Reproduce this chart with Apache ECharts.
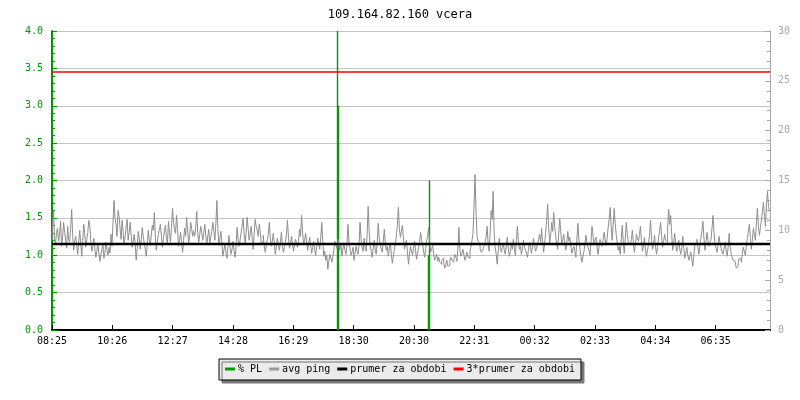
<!DOCTYPE html>
<html>
<head>
<meta charset="utf-8">
<script src="https://cdn.jsdelivr.net/npm/echarts@6/dist/echarts.min.js"></script>
<style>html,body{margin:0;padding:0;background:#fff;}#c{width:800px;height:400px;}</style>
</head>
<body>
<div id="c"></div>
<script>
// ---- data ----
const titleText = '109.164.82.160 vcera';
const tickLabels = ['08:25','10:26','12:27','14:28','16:29','18:30','20:30','22:31','00:32','02:33','04:34','06:35'];
const tickStepMin = 121;       // minutes between labelled ticks
const rangeMin = 1440;         // whole period, minutes from 08:25
const leftTicks = [0, 4, 0.5];   // min, max, interval (% PL)
const rightTicks = [0, 30, 5];   // min, max, interval (ms)

// avg ping (ms), sampled evenly over the period (about one sample per 2 minutes)
const avgPing = [
 9.0,10.4,12.0,9.2,8.6,9.8,10.2,8.9,
 9.6,10.9,8.4,9.3,10.8,9.8,9.0,8.2,10.4,9.1,
 8.8,10.2,12.1,9.5,8.0,8.9,9.4,8.5,7.6,8.8,
 10.0,8.6,7.4,9.0,10.6,9.6,8.3,9.1,9.8,11.0,
 10.5,8.9,7.9,8.4,9.2,8.1,7.3,7.9,8.6,7.7,
 6.9,7.6,8.1,8.6,7.2,7.8,8.8,8.0,7.5,8.3,
 7.7,9.6,8.4,10.8,13.0,11.2,10.6,9.4,12.0,11.4,
 10.2,9.1,11.0,9.9,8.6,9.4,10.4,11.1,9.0,9.8,
 10.8,9.5,8.3,8.9,9.6,8.6,7.0,8.2,9.9,9.2,
 8.1,9.1,10.3,9.4,8.7,8.1,7.4,8.6,10.0,9.0,
 8.5,9.6,10.5,10.0,11.8,9.3,8.0,8.9,9.6,10.1,
 10.6,9.4,8.3,9.2,10.0,10.5,9.2,8.7,10.9,9.8,
 8.8,10.3,12.2,10.9,10.0,9.7,11.5,10.1,8.4,9.0,
 9.8,8.9,7.8,9.0,10.2,9.4,11.3,10.0,8.7,9.5,10.8,10.2,9.4,9.9,
 9.4,10.3,11.9,9.7,8.8,9.6,10.4,9.8,9.0,9.7,
 10.6,9.5,8.6,9.4,10.1,8.7,9.3,10.0,10.8,9.9,
 9.0,10.7,13.0,10.1,8.5,9.2,9.9,8.6,7.4,8.0,
 8.7,7.8,7.2,8.4,9.5,8.3,7.6,8.1,8.9,8.0,
 7.3,8.2,10.3,9.1,8.4,9.0,9.8,10.4,11.2,9.7,
 8.6,9.8,11.3,10.2,9.0,9.6,10.4,9.3,8.1,9.7,
 11.1,10.4,10.0,9.4,10.6,9.9,8.7,8.8,9.5,8.4,
 7.8,8.5,9.1,9.6,10.8,9.2,8.4,9.0,9.7,8.6,
 7.6,8.4,9.2,8.5,8.0,8.8,9.8,8.4,7.8,8.3,
 8.8,9.6,11.0,9.3,8.2,8.7,9.4,8.6,7.9,8.5,
 9.1,8.7,8.3,9.0,10.1,9.4,11.5,9.8,8.6,9.0,
 9.7,8.8,8.0,8.6,9.3,8.5,7.7,8.3,8.9,8.0,
 7.5,8.4,9.2,8.6,8.1,9.3,10.8,8.9,7.4,7.9,
 7.0,7.5,6.1,6.9,7.6,7.2,6.8,7.4,8.0,8.9,8.6,8.2,9.1,8.5,
 8.0,8.6,7.4,8.1,8.7,8.0,7.6,8.5,10.6,8.9,
 8.2,7.5,7.8,8.3,7.0,7.7,8.4,7.9,7.6,8.6,
 10.8,9.1,8.3,7.9,9.2,8.4,7.9,9.6,12.4,9.9,
 8.5,7.9,7.3,8.2,9.0,8.0,7.6,8.8,10.7,9.2,
 8.6,8.1,7.8,8.9,10.1,8.7,8.0,8.4,7.4,8.2,
 8.7,7.6,6.7,7.4,8.1,8.7,9.4,10.6,12.3,10.1,
 9.3,9.9,10.5,9.2,8.1,8.6,9.0,7.8,6.6,7.6,
 8.4,7.9,7.5,8.2,8.9,8.0,7.1,7.7,8.3,8.8,
 9.8,9.0,8.6,7.9,7.3,8.1,8.9,9.5,10.3,8.7,
 7.8,8.2,8.5,7.6,7.0,7.3,7.6,6.9,7.3,6.8,
 6.6,7.0,7.2,6.7,6.2,6.6,7.0,6.4,6.5,6.9,
 7.3,7.0,6.8,7.2,7.6,7.3,6.9,8.2,10.3,8.0,
 7.4,7.7,8.1,7.5,7.0,7.4,7.8,7.3,7.2,7.9,
 8.4,9.0,9.7,12.5,15.6,11.8,9.4,8.9,8.7,8.2,7.8,8.0,8.3,8.5,
 8.9,9.3,10.4,8.6,7.9,9.8,12.0,11.1,13.9,9.6,
 8.3,7.6,6.6,7.9,9.2,8.4,7.8,8.3,8.7,8.0,
 7.6,8.4,9.3,8.2,7.4,7.9,8.6,8.1,9.1,8.2,
 7.5,9.0,10.4,8.9,8.1,8.4,7.6,8.2,9.0,8.3,
 8.0,7.7,7.3,8.1,8.8,8.3,7.7,8.4,9.2,8.5,
 7.9,8.2,8.6,9.1,9.6,8.8,10.2,8.9,7.8,8.6,
 9.8,11.0,12.6,10.2,8.7,9.5,10.8,9.9,11.8,10.4,
 9.4,8.6,8.1,9.7,11.2,9.9,8.6,9.1,9.6,8.7,
 8.0,8.8,9.9,8.9,9.3,8.5,7.7,8.1,8.4,7.9,
 7.3,9.2,10.7,9.0,8.2,7.4,6.8,7.4,7.9,8.6,
 9.5,8.8,8.3,8.0,7.5,8.9,10.4,9.4,8.6,9.0,
 9.3,8.3,7.6,8.4,9.1,8.7,8.4,9.0,9.8,9.1,
 8.5,9.2,10.3,11.1,12.3,10.4,9.0,10.6,12.2,10.7,
 9.6,8.7,8.0,8.4,7.6,9.1,10.5,8.8,7.7,9.2,10.8,9.6,8.8,8.6,
 8.4,9.1,10.0,8.7,7.8,8.6,9.6,9.2,8.9,9.5,
 10.4,9.0,7.9,8.4,9.3,8.1,7.4,8.0,8.6,9.5,
 11.0,9.2,8.1,8.6,9.5,8.3,7.6,8.4,9.2,9.9,
 10.8,9.4,8.3,8.9,9.6,9.0,8.8,10.3,12.1,10.6,
 11.5,9.6,8.0,8.7,9.7,8.6,7.9,8.3,9.0,8.1,
 7.6,8.3,9.4,8.2,7.2,7.7,8.3,7.5,7.0,7.4,
 7.8,7.0,6.4,7.5,8.5,8.7,9.1,8.3,7.6,8.4,
 9.3,10.0,10.9,9.2,8.0,8.8,9.8,9.0,8.4,8.8,
 9.1,10.2,11.5,9.8,8.6,8.2,7.8,8.5,9.4,8.7,
 8.2,7.9,7.6,8.2,8.8,8.0,7.4,8.3,9.7,8.4,
 7.6,7.3,7.0,6.9,6.7,6.2,6.4,6.9,7.2,7.1,
 6.8,7.6,8.3,7.9,7.5,8.4,9.2,9.8,10.6,9.3,
 8.1,9.0,10.2,9.6,9.0,10.8,12.2,10.4,9.5,10.3,
 11.0,11.9,12.8,11.4,10.4,12.6,13.9,12.4,11.9
];
// packet loss (%), at minutes from 08:25
const plTimes = [572.6, 574.6, 755.1, 757.1];
const plValues = [4.0, 3.0, 1.0, 2.0];
const meanPing = 8.63;
const meanPing3 = 25.89;

const seriesNames = ['% PL', 'avg ping', 'prumer za obdobi', '3*prumer za obdobi'];
const colors = { pl: '#009900', ping: '#8e8e8e', mean: '#000000', mean3: '#ff0000', grid: '#c4c4c4', right: '#a8a8a8' };

// ---- build ----
const pingStep = rangeMin / (avgPing.length - 1);
const pingData = avgPing.map((v, i) => [i * pingStep, v]);
const plData = plTimes.map((t, i) => [t, plValues[i]]);
const meanData = [[0, meanPing], [rangeMin, meanPing]];
const mean3Data = [[0, meanPing3], [rangeMin, meanPing3]];

const FONT = 'DejaVu Sans Mono';
const chart = echarts.init(document.getElementById('c'), null, { renderer: 'canvas' });
chart.setOption({
  animation: false,
  backgroundColor: '#ffffff',
  title: {
    text: titleText, left: 'center', top: 4,
    textStyle: { fontFamily: FONT, fontSize: 12, fontWeight: 'normal', color: '#000' }
  },
  legend: {
    data: seriesNames.map((n, i) => ({ name: n, icon: 'rect' })),
    left: 'center', top: 359,
    itemWidth: 10, itemHeight: 3, itemGap: 7,
    padding: [5, 6, 6, 6],
    backgroundColor: '#ebebeb', borderColor: '#000', borderWidth: 1,
    shadowColor: '#777', shadowBlur: 0, shadowOffsetX: 3, shadowOffsetY: 3,
    textStyle: { fontFamily: FONT, fontSize: 10, color: '#000', padding: [0, 0, 0, -2] }
  },
  grid: { left: 52, right: 30, top: 31, bottom: 70, containLabel: false },
  xAxis: {
    type: 'value', min: 0, max: rangeMin, interval: tickStepMin,
    axisLine: { lineStyle: { color: '#000', width: 2 } },
    axisTick: { inside: true, length: 5, lineStyle: { color: '#000' } },
    splitLine: { show: false },
    axisLabel: {
      showMaxLabel: false, margin: 6,
      fontFamily: FONT, fontSize: 10, color: '#000',
      formatter: v => tickLabels[Math.round(v / tickStepMin)] || ''
    }
  },
  yAxis: [{
    type: 'value', position: 'left', min: leftTicks[0], max: leftTicks[1], interval: leftTicks[2],
    axisLine: { show: true, lineStyle: { color: colors.pl, width: 2 } },
    axisTick: { show: true, inside: true, length: 5, lineStyle: { color: colors.pl } },
    minorTick: { show: true, splitNumber: 5, length: 3, lineStyle: { color: colors.pl } },
    splitLine: { show: true, lineStyle: { color: colors.grid, width: 1 } },
    axisLabel: { margin: 9, fontFamily: FONT, fontSize: 10, color: colors.pl, formatter: v => v.toFixed(1) }
  }, {
    type: 'value', position: 'right', min: rightTicks[0], max: rightTicks[1], interval: rightTicks[2],
    axisLine: { show: true, lineStyle: { color: colors.right, width: 1 } },
    axisTick: { show: true, inside: true, length: 5, lineStyle: { color: colors.right } },
    minorTick: { show: true, splitNumber: 5, length: 3, lineStyle: { color: colors.right } },
    splitLine: { show: false },
    axisLabel: { margin: 8, fontFamily: FONT, fontSize: 10, color: colors.right }
  }],
  series: [{
    name: seriesNames[0], type: 'bar', yAxisIndex: 0, data: plData, barWidth: 1.4,
    itemStyle: { color: colors.pl, borderColor: colors.pl, borderWidth: 0, opacity: 1 }, silent: true
  }, {
    name: seriesNames[1], type: 'line', yAxisIndex: 1, data: pingData, showSymbol: false, step: 'middle',
    lineStyle: { color: colors.ping, width: 1 }, itemStyle: { color: '#999999' }, silent: true
  }, {
    name: seriesNames[2], type: 'line', yAxisIndex: 1, data: meanData, showSymbol: false,
    lineStyle: { color: colors.mean, width: 2.5 }, itemStyle: { color: colors.mean }, silent: true
  }, {
    name: seriesNames[3], type: 'line', yAxisIndex: 1, data: mean3Data, showSymbol: false,
    lineStyle: { color: colors.mean3, width: 1.5 }, itemStyle: { color: colors.mean3 }, silent: true
  }]
});
</script>
</body>
</html>
